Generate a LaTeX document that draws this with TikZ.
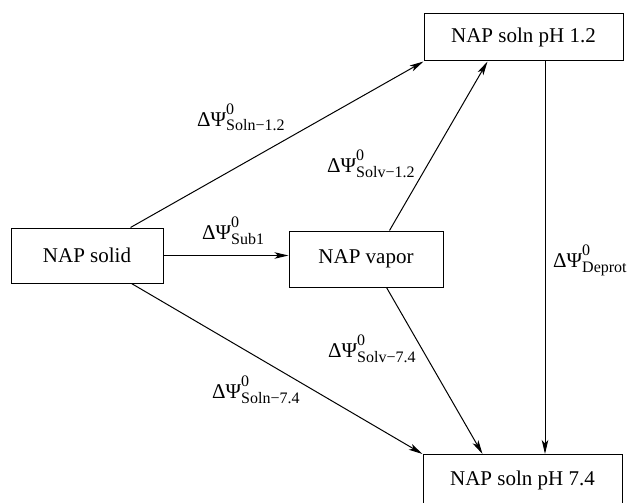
\documentclass[tikz,border=0pt]{standalone}
\usepackage{fontspec}
\setmainfont{Liberation Serif}
\usetikzlibrary{arrows.meta,calc}
\newcommand{\subfnt}{\fontsize{16}{16}\selectfont}
\newcommand{\dpsi}[1]{ΔΨ\rlap{\raisebox{11.5pt}{\subfnt 0}}\raisebox{-5pt}{\subfnt #1}}
\tikzset{
  statebox/.style={draw=black, line width=1pt, inner sep=0pt, font=\fontsize{21}{21}\selectfont},
  conn/.style={line width=1pt, -{Stealth[length=14pt,width=6.5pt,inset=3.5pt]}},
  lbl/.style={anchor=base west, inner sep=0pt, font=\fontsize{21}{21}\selectfont}
}
\begin{document}
\begin{tikzpicture}[x=1pt,y=-1pt]
\useasboundingbox (0,0) rectangle (630,503);
\node[statebox, minimum width=199pt, minimum height=47pt] (p12) at (523.5,37.5) {NAP soln pH 1.2};
\node[statebox, minimum width=152pt, minimum height=55pt] (solid) at (87,255.5) {NAP solid};
\node[statebox, minimum width=154pt, minimum height=56pt] (vapor) at (366,259) {NAP vapor};
\node[statebox, minimum width=199pt, text height=31pt, text depth=25pt, anchor=north] (p74) at (522.5,454) {NAP soln pH 7.4};
% connectors
\draw[conn] ([xshift=-33pt]solid.north east) -- (p12.south west);
\draw[conn] ([xshift=101pt]vapor.north west) -- ([xshift=64pt]p12.south west);
\draw[conn] (solid.east) -- (solid.east -| vapor.west);
\draw[conn] ([xshift=-32pt]solid.south east) -- (p74.north west);
\draw[conn] ([xshift=98pt]vapor.south west) -- ([xshift=60pt]p74.north west);
\draw[conn] ([xshift=21.5pt]p12.south) -- ([xshift=21.5pt]p12.south |- p74.north);
% labels
\node[lbl] (l1) at (197,126) {\dpsi{Soln−1.2}};
\node[lbl] (l2) at (327,172) {\dpsi{Solv−1.2}};
\node[lbl] (l3) at (202,239) {\dpsi{Sub1}};
\node[lbl] (l4) at (553,267) {\dpsi{Deprot}};
\node[lbl] (l5) at (328,357) {\dpsi{Solv−7.4}};
\node[lbl] (l6) at (212,398) {\dpsi{Soln−7.4}};
\end{tikzpicture}
\end{document}
